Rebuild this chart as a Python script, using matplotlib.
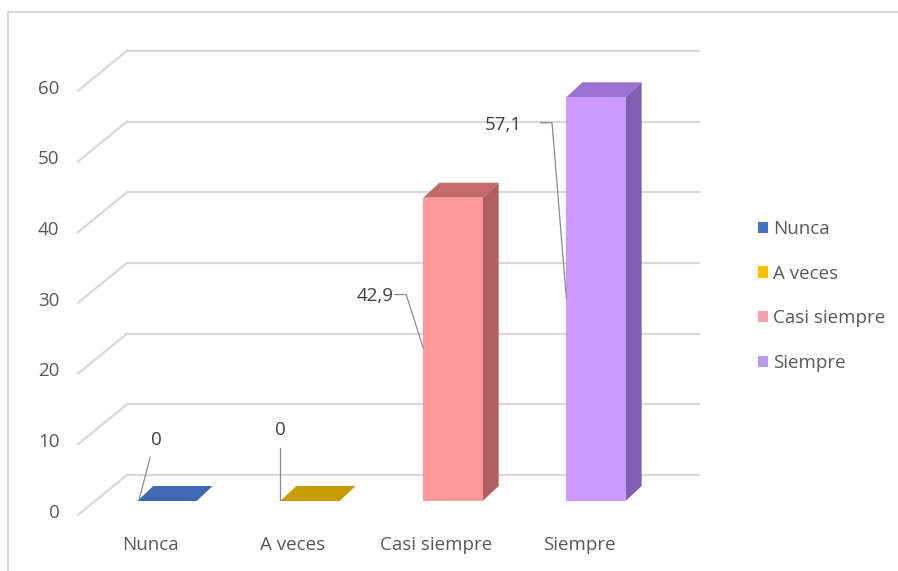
import matplotlib
matplotlib.use("Agg")
import matplotlib.pyplot as plt
from matplotlib.patches import Polygon, Rectangle, Patch

# ---- data ----
categories = ["Nunca", "A veces", "Casi siempre", "Siempre"]
values = [0.0, 0.0, 42.9, 57.1]
value_labels = ["0", "0", "42,9", "57,1"]
y_ticks = [0, 10, 20, 30, 40, 50, 60]

front_colors = ["#4472C4", "#FFC000", "#FF9999", "#CC99FF"]
top_colors = ["#3F69B2", "#C89B00", "#C46A6A", "#9A72D2"]
side_colors = ["#34589A", "#A88200", "#B25F5F", "#8060B0"]
legend_colors = ["#4472C4", "#FFC000", "#F4A2AA", "#B898F2"]

plt.rcParams["font.family"] = ["Open Sans", "DejaVu Sans"]
TEXT = "#595959"
LABEL = "#404040"
GRID = "#D9D9D9"
FS = 13.5

W, H = 898, 571
fig = plt.figure(figsize=(W / 100, H / 100), dpi=100)
ax = fig.add_axes([0, 0, 1, 1])

# layout calibration: category spacing and value scale of the front plane
x0_px, step_px = 167.0, 143.0
zero_px, unit_px = 501.0, 7.07
ax.set_xlim(-x0_px / step_px, (W - x0_px) / step_px)
ax.set_ylim((zero_px - H) / unit_px, zero_px / unit_px)
ax.axis("off")

# 3-D offsets (in data units)
bar_w = 0.415
bar_dx, bar_dy = 16 / step_px, 15 / unit_px
wall_dy = 26 / unit_px              # back wall lies behind the front plane
wall_x0, wall_x1 = -0.28, 3.73
side_dx, side_dy = -49 / step_px, -40 / unit_px

# back wall gridlines, left side-wall diagonals and value ticks
for t in y_ticks:
    yb = t + wall_dy
    ax.plot([wall_x0, wall_x1], [yb, yb], color=GRID, lw=1.6, zorder=1,
            solid_capstyle="butt")
    ax.plot([wall_x0, wall_x0 + side_dx], [yb, yb + side_dy], color=GRID,
            lw=1.6, zorder=1)
    ax.text(wall_x0 + side_dx - 0.13, yb + side_dy + 0.3, str(t),
            ha="right", va="center", color=TEXT, fontsize=FS)

# 3-D columns: top face, front face and right side face
for i, v in enumerate(values):
    xl, xr = i - bar_w / 2, i + bar_w / 2
    ax.add_patch(Polygon([(xl, v), (xr, v), (xr + bar_dx, v + bar_dy),
                          (xl + bar_dx, v + bar_dy)], closed=True,
                         facecolor=top_colors[i], edgecolor="none", zorder=3))
    if v > 0:
        ax.add_patch(Rectangle((xl, 0), bar_w, v, facecolor=front_colors[i],
                               edgecolor="none", zorder=4))
        ax.add_patch(Polygon([(xr, 0), (xr + bar_dx, bar_dy),
                              (xr + bar_dx, v + bar_dy), (xr, v)], closed=True,
                             facecolor=side_colors[i], edgecolor="none",
                             zorder=3))

# category labels
for i, c in enumerate(categories):
    ax.text(i - 0.119, -6.2, c, ha="center", va="center", color=TEXT,
            fontsize=FS)

# data labels with leader lines; label placement is relative to the
# column's front-left edge (x) and to its top (y)
label_off = [(0.13, 8.6), (0.0, 10.0), (-0.34, -13.9), (-0.44, -3.9)]
leader_off = [
    [(0.09, 6.2), (0.015, 0.4)],
    [(0.0, 7.5), (0.0, 0.15), (0.03, 0.15)],
    [(-0.2, -13.7), (-0.12, -13.7), (0.0, -21.3)],
    [(-0.18, -3.6), (-0.1, -3.6), (0.0, -28.4)],
]
for i, v in enumerate(values):
    xl = i - bar_w / 2
    dx, dy = label_off[i]
    ax.text(xl + dx, v + dy, value_labels[i], ha="center", va="center",
            color=LABEL, fontsize=FS, zorder=6)
    xs = [xl + p[0] for p in leader_off[i]]
    ys = [v + p[1] for p in leader_off[i]]
    ax.plot(xs, ys, color="#8C8C8C", lw=0.9, zorder=5)

# legend
handles = [Patch(facecolor=c, edgecolor="none") for c in legend_colors]
leg = fig.legend(handles, categories, loc="center left",
                 bbox_to_anchor=(750 / W, 1 - 296 / H), frameon=False,
                 fontsize=FS, handlelength=0.55, handleheight=0.55,
                 handletextpad=0.3, labelspacing=1.42, borderaxespad=0)
for t in leg.get_texts():
    t.set_color(TEXT)

# chart area border
fig.add_artist(Rectangle((8 / W, -0.1), 1.1, 1 - 12 / H + 0.1,
                         transform=fig.transFigure, fill=False,
                         edgecolor="#D9D9D9", lw=1.5))

fig.savefig("out.png", dpi=100, facecolor="white")
